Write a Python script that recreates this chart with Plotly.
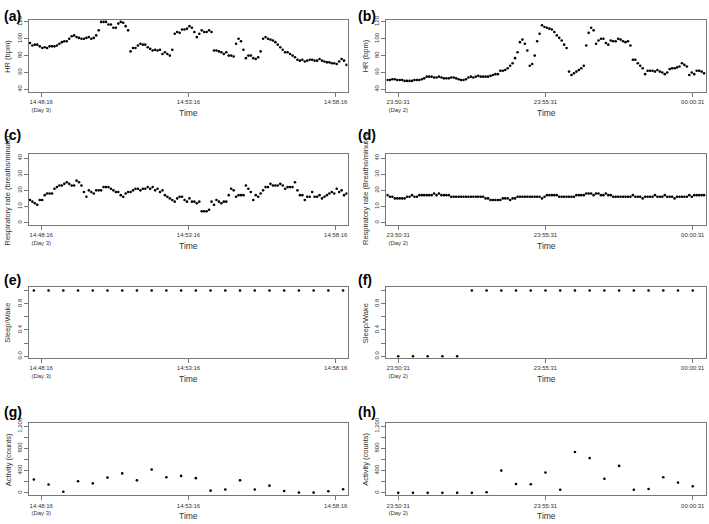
import pandas as pd
import plotly.graph_objects as go

# ---------------- data ----------------
hr_day3 = [95, 92, 93, 93, 91, 89, 90, 89, 91, 91, 91, 92, 94, 96, 97, 97, 100, 103, 104, 102,
           101, 100, 100, 101, 102, 100, 101, 104, 110, 120, 120, 120, 117, 117, 113, 113, 118, 120, 119, 115,
           110, 85, 89, 89, 92, 94, 93, 93, 90, 88, 86, 87, 86, 87, 82, 84, 82, 80, 87, 106,
           108, 107, 111, 111, 112, 115, 113, 108, 102, 106, 110, 108, 108, 110, 108, 86, 86, 85, 84, 82,
           84, 80, 80, 79, 94, 100, 97, 87, 77, 80, 80, 77, 76, 78, 85, 100, 102, 100, 99, 98,
           96, 93, 90, 87, 84, 84, 82, 80, 78, 75, 74, 75, 73, 74, 75, 75, 74, 74, 76, 74,
           73, 72, 72, 71, 71, 70, 73, 76, 74, 69]
hr_day2 = [51, 51, 52, 52, 51, 51, 51, 50, 50, 50, 50, 51, 51, 51, 52, 53, 55, 55, 55, 54,
           54, 55, 54, 53, 53, 53, 54, 54, 53, 52, 51, 51, 52, 54, 55, 54, 55, 56, 55, 55,
           55, 55, 56, 57, 58, 58, 62, 62, 63, 65, 68, 71, 77, 84, 96, 99, 94, 86, 68, 70,
           80, 97, 106, 116, 114, 113, 112, 111, 108, 104, 101, 98, 93, 89, 61, 57, 59, 61, 63, 65,
           68, 92, 107, 113, 110, 94, 98, 100, 100, 95, 93, 98, 97, 97, 100, 99, 97, 96, 97, 92,
           75, 75, 71, 68, 65, 58, 62, 62, 62, 61, 63, 61, 60, 58, 60, 64, 65, 65, 66, 67,
           71, 69, 67, 57, 60, 58, 62, 62, 61, 59]
rr_day3 = [14, 13, 12, 11, 14, 14, 17, 18, 18, 18, 21, 22, 23, 23, 24, 25, 24, 23, 23, 26,
           25, 23, 19, 16, 20, 19, 18, 20, 20, 20, 22, 22, 22, 21, 20, 19, 19, 17, 16, 18,
           19, 19, 20, 21, 21, 20, 21, 21, 22, 21, 22, 20, 21, 19, 20, 17, 16, 15, 14, 13,
           15, 16, 16, 14, 13, 15, 13, 13, 12, 13, 7, 7, 7, 8, 13, 11, 14, 13, 12, 13,
           13, 17, 21, 20, 16, 17, 17, 17, 23, 21, 19, 14, 17, 16, 18, 20, 22, 22, 24, 23,
           23, 23, 24, 23, 21, 22, 22, 22, 25, 20, 17, 17, 14, 16, 16, 19, 16, 16, 17, 15,
           16, 17, 18, 19, 18, 21, 19, 20, 17, 18]
rr_day2 = [17, 16, 16, 15, 15, 15, 15, 15, 16, 16, 17, 16, 16, 17, 17, 17, 17, 17, 17, 18,
           17, 18, 17, 17, 17, 17, 16, 16, 16, 16, 16, 16, 16, 16, 16, 16, 16, 16, 16, 16,
           15, 15, 14, 14, 14, 14, 14, 15, 15, 15, 14, 15, 15, 16, 16, 16, 16, 16, 16, 16,
           16, 16, 16, 15, 16, 17, 17, 17, 17, 17, 16, 16, 16, 16, 16, 16, 16, 17, 17, 17,
           17, 18, 18, 18, 17, 18, 18, 17, 17, 18, 17, 17, 16, 16, 16, 16, 16, 16, 16, 16,
           17, 16, 16, 16, 15, 16, 16, 16, 16, 17, 16, 16, 16, 17, 16, 16, 16, 15, 16, 16,
           16, 16, 16, 17, 16, 17, 17, 17, 17, 17]
sw_day3 = [1] * 22
sw_day2 = [0, 0, 0, 0, 0] + [1] * 16
act_day3 = [240, 150, 20, 210, 170, 275, 350, 225, 420, 280, 305, 265, 40, 60, 225, 60,
            130, 35, 5, 5, 30, 65]
act_day2 = [0, 0, 0, 0, 0, 0, 10, 400, 160, 155, 365, 55, 735, 625, 255, 485, 55, 70,
            280, 185, 120]

t5_day3 = pd.date_range("2000-01-03 14:47:53", periods=len(hr_day3), freq="5s")
t5_day2 = pd.date_range("2000-01-02 23:50:09", periods=len(hr_day2), freq="5s")
t30_day3 = pd.date_range("2000-01-03 14:48:01", periods=len(act_day3), freq="30s")
t30_day2 = pd.date_range("2000-01-02 23:50:31", periods=len(act_day2), freq="30s")

ticks_day3 = ["2000-01-03 14:48:16", "2000-01-03 14:53:16", "2000-01-03 14:58:16"]
ticklab_day3 = ["14:48:16<br>(Day 3)", "14:53:16", "14:58:16"]
ticks_day2 = ["2000-01-02 23:50:31", "2000-01-02 23:55:31", "2000-01-03 00:00:31"]
ticklab_day2 = ["23:50:31<br>(Day 2)", "23:55:31", "00:00:31"]
range_day3 = ["2000-01-03 14:47:51", "2000-01-03 14:58:40"]
range_day2 = ["2000-01-02 23:50:07", "2000-01-03 00:00:58"]

# ---------------- layout ----------------
W, H = 709, 524
FONT = "Liberation Sans, Arial, Helvetica, sans-serif"
AXC = "#777777"
TXT = "#333333"

col_px = [(29, 348), (387, 707)]
row_px = [(14, 87), (150, 222), (285, 357), (423, 496)]


def xd(c):
    return [col_px[c][0] / W, col_px[c][1] / W]


def yd(r):
    return [1 - row_px[r][1] / H, 1 - row_px[r][0] / H]


panels = [
    # (label, row, col, x, y, ytitle, yrange, yticks, yticktext)
    ("(a)", 0, 0, t5_day3, hr_day3, "HR (bpm)", [37, 122.5], [40, 60, 80, 100, 120], ["40", "60", "80", "100", "120"]),
    ("(b)", 0, 1, t5_day2, hr_day2, "HR (bpm)", [37, 122.5], [40, 60, 80, 100, 120], ["40", "60", "80", "100", "120"]),
    ("(c)", 1, 0, t5_day3, rr_day3, "Respiratory rate (breaths/minute)", [-1.5, 42.5], [0, 10, 20, 30, 40], ["0", "10", "20", "30", "40"]),
    ("(d)", 1, 1, t5_day2, rr_day2, "Respiratory rate (Breaths/minute)", [-1.5, 42.5], [0, 10, 20, 30, 40], ["0", "10", "20", "30", "40"]),
    ("(e)", 2, 0, t30_day3, sw_day3, "Sleep/Wake", [-0.03, 1.05], [0, 0.2, 0.4, 0.6, 0.8, 1.0], ["0.0", "", "0.4", "", "0.8", ""]),
    ("(f)", 2, 1, t30_day2, sw_day2, "Sleep/Wake", [-0.03, 1.05], [0, 0.2, 0.4, 0.6, 0.8, 1.0], ["0.0", "", "0.4", "", "0.8", ""]),
    ("(g)", 3, 0, t30_day3, act_day3, "Activity (counts)", [-45, 1250], [0, 200, 400, 600, 800, 1000, 1200], ["0", "", "400", "", "800", "", "1,200"]),
    ("(h)", 3, 1, t30_day2, act_day2, "Activity (counts)", [-45, 1250], [0, 200, 400, 600, 800, 1000, 1200], ["0", "", "400", "", "800", "", "1,200"]),
]

label_y = [10, 131, 278, 412]

fig = go.Figure()
annotations = []
layout = {}
for i, (lab, r, c, xs, ys, ytitle, yr, ytv, ytt) in enumerate(panels):
    n = i + 1
    xa = "x" if n == 1 else f"x{n}"
    ya = "y" if n == 1 else f"y{n}"
    fig.add_trace(go.Scatter(x=xs, y=ys, mode="markers", xaxis=xa, yaxis=ya,
                             marker=dict(color="black", size=2.6), showlegend=False,
                             hoverinfo="x+y"))
    xkey = "xaxis" if n == 1 else f"xaxis{n}"
    ykey = "yaxis" if n == 1 else f"yaxis{n}"
    layout[xkey] = dict(
        domain=xd(c), anchor=ya, type="date",
        range=range_day3 if c == 0 else range_day2,
        tickmode="array",
        tickvals=ticks_day3 if c == 0 else ticks_day2,
        ticktext=ticklab_day3 if c == 0 else ticklab_day2,
        showline=True, mirror=True, linecolor=AXC, linewidth=1,
        ticks="outside", ticklen=4, tickcolor=AXC, tickwidth=1,
        tickfont=dict(size=6, color=TXT, family=FONT),
        showgrid=False, zeroline=False, fixedrange=True,
    )
    layout[ykey] = dict(
        domain=yd(r), anchor=xa, range=yr,
        tickmode="array", tickvals=ytv, ticktext=ytt, tickangle=-90,
        showline=True, mirror=True, linecolor=AXC, linewidth=1,
        ticks="outside", ticklen=4, tickcolor=AXC, tickwidth=1,
        tickfont=dict(size=6, color=TXT, family=FONT),
        showgrid=False, zeroline=False, fixedrange=True,
    )
    x0 = col_px[c][0]
    # panel label
    annotations.append(dict(text="<b>" + lab + "</b>", xref="paper", yref="paper",
                            x=(2 if c == 0 else 357) / W, y=1 - label_y[r] / H,
                            xanchor="left", yanchor="middle", showarrow=False,
                            font=dict(size=14, color="black", family=FONT)))
    # y title
    annotations.append(dict(text=ytitle, xref="paper", yref="paper",
                            x=(x0 - 21) / W, y=1 - (row_px[r][0] + row_px[r][1]) / 2 / H,
                            xanchor="center", yanchor="middle", textangle=-90, showarrow=False,
                            font=dict(size=7.5, color=TXT, family=FONT)))
    # x title
    annotations.append(dict(text="Time", xref="paper", yref="paper",
                            x=(col_px[c][0] + col_px[c][1]) / 2 / W, y=1 - (row_px[r][1] + 21) / H,
                            xanchor="center", yanchor="middle", showarrow=False,
                            font=dict(size=8.5, color=TXT, family=FONT)))

fig.update_layout(
    width=W, height=H, margin=dict(l=0, r=0, t=0, b=0),
    paper_bgcolor="white", plot_bgcolor="white",
    annotations=annotations, font=dict(family=FONT), **layout,
)
fig.write_html("out.html", config={"displayModeBar": False},
               post_script="document.body.style.margin='0';")
